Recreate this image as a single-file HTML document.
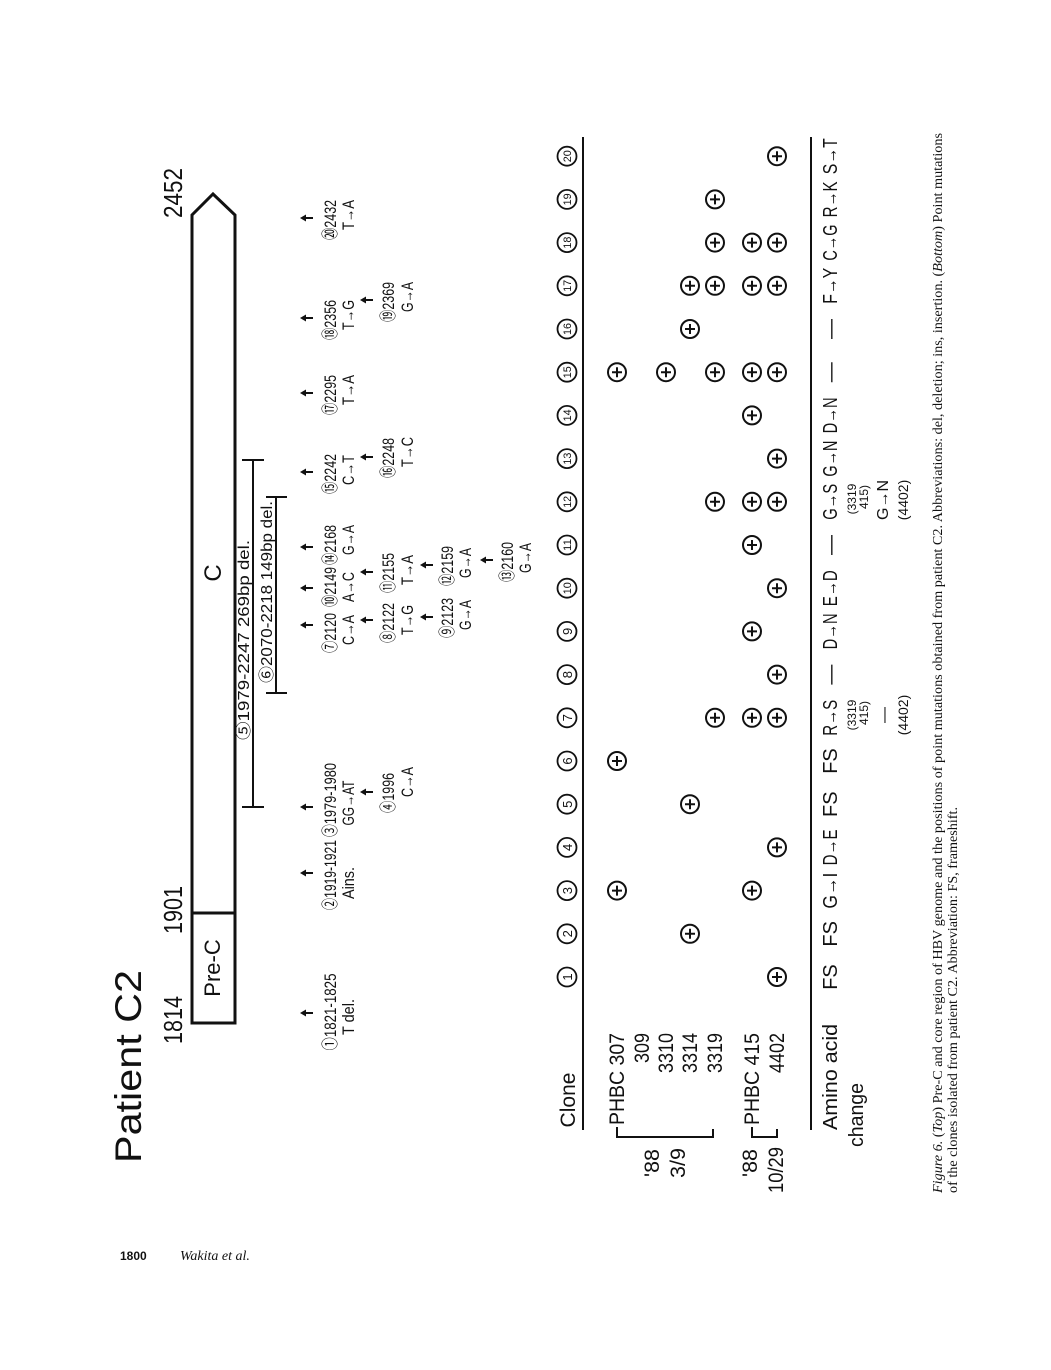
<!DOCTYPE html>
<html><head><meta charset="utf-8"><style>
html,body{margin:0;padding:0;background:#fff;}
svg{display:block;}
text{font-family:"Liberation Sans","Noto Sans CJK JP",sans-serif;fill:#111;}
.s{font-size:17px;}
.a{font-size:20px;}
.sm{font-size:12px;}
.cap{font-family:"Liberation Serif",serif;font-size:14px;}
</style></head><body>
<svg width="1051" height="1370" viewBox="0 0 1051 1370" xmlns="http://www.w3.org/2000/svg">
<defs>
<g id="p"><circle r="9" fill="none" stroke="#111" stroke-width="2"/><path d="M-5 0H5M0 -5V5" stroke="#111" stroke-width="2"/></g>
<g id="ar"><path d="M0 -4V6" stroke="#111" stroke-width="2"/><path d="M-3.5 -1L0 -7L3.5 -1Z" fill="#111"/></g>
</defs>
<g transform="translate(0,1370) rotate(-90)">
<text x="207" y="141" font-size="37" textLength="193" lengthAdjust="spacingAndGlyphs">Patient C2</text>
<text x="350" y="182" font-size="26" text-anchor="middle" textLength="48" lengthAdjust="spacingAndGlyphs">1814</text>
<text x="460" y="182" font-size="26" text-anchor="middle" textLength="48" lengthAdjust="spacingAndGlyphs">1901</text>
<text x="1177" y="182" font-size="26" text-anchor="middle" textLength="50" lengthAdjust="spacingAndGlyphs">2452</text>
<path d="M347 192H1155L1176 213L1155 235H347Z" fill="none" stroke="#111" stroke-width="3"/>
<path d="M457 192V235" stroke="#111" stroke-width="3"/>
<text x="402" y="220" font-size="22" text-anchor="middle">Pre-C</text>
<text x="797" y="221" font-size="24" text-anchor="middle">C</text>
<path d="M563 253H910M563 242V264M910 242V264" stroke="#111" stroke-width="2" fill="none"/>
<text x="630" y="249" font-size="16" textLength="200" lengthAdjust="spacingAndGlyphs">⑤1979-2247  269bp del.</text>
<path d="M677 276H873M677 266V287M873 266V287" stroke="#111" stroke-width="2" fill="none"/>
<text x="687" y="272" font-size="16" textLength="182" lengthAdjust="spacingAndGlyphs">⑥2070-2218  149bp del.</text>
<g class="s" text-anchor="middle">
<use href="#ar" x="357" y="307"/><text x="358" y="336" textLength="77" lengthAdjust="spacingAndGlyphs">①1821-1825</text><text x="353" y="354" textLength="36" lengthAdjust="spacingAndGlyphs">T del.</text>
<use href="#ar" x="497" y="307"/><text x="495" y="336" textLength="70" lengthAdjust="spacingAndGlyphs">②1919-1921</text><text x="487" y="354" textLength="32" lengthAdjust="spacingAndGlyphs">Ains.</text>
<use href="#ar" x="563" y="307"/><text x="570" y="336" textLength="74" lengthAdjust="spacingAndGlyphs">③1979-1980</text><text x="567" y="354" textLength="45" lengthAdjust="spacingAndGlyphs">GG→AT</text>
<use href="#ar" x="578" y="367"/><text x="577" y="394" textLength="40" lengthAdjust="spacingAndGlyphs">④1996</text><text x="588" y="413" textLength="30" lengthAdjust="spacingAndGlyphs">C→A</text>
<use href="#ar" x="745" y="307"/><text x="737" y="336" textLength="40" lengthAdjust="spacingAndGlyphs">⑦2120</text><text x="740" y="354" textLength="30" lengthAdjust="spacingAndGlyphs">C→A</text>
<use href="#ar" x="782" y="307"/><text x="783" y="336" textLength="40" lengthAdjust="spacingAndGlyphs">⑩2149</text><text x="783" y="354" textLength="30" lengthAdjust="spacingAndGlyphs">A→C</text>
<use href="#ar" x="823" y="307"/><text x="825" y="336" textLength="40" lengthAdjust="spacingAndGlyphs">⑭2168</text><text x="830" y="354" textLength="30" lengthAdjust="spacingAndGlyphs">G→A</text>
<use href="#ar" x="750" y="367"/><text x="747" y="394" textLength="40" lengthAdjust="spacingAndGlyphs">⑧2122</text><text x="750" y="413" textLength="30" lengthAdjust="spacingAndGlyphs">T→G</text>
<use href="#ar" x="798" y="367"/><text x="797" y="394" textLength="40" lengthAdjust="spacingAndGlyphs">⑪2155</text><text x="800" y="413" textLength="30" lengthAdjust="spacingAndGlyphs">T→A</text>
<use href="#ar" x="753" y="427"/><text x="752" y="453" textLength="40" lengthAdjust="spacingAndGlyphs">⑨2123</text><text x="755" y="471" textLength="30" lengthAdjust="spacingAndGlyphs">G→A</text>
<use href="#ar" x="805" y="427"/><text x="804" y="453" textLength="40" lengthAdjust="spacingAndGlyphs">⑫2159</text><text x="807" y="471" textLength="30" lengthAdjust="spacingAndGlyphs">G→A</text>
<use href="#ar" x="810" y="487"/><text x="808" y="513" textLength="40" lengthAdjust="spacingAndGlyphs">⑬2160</text><text x="812" y="531" textLength="30" lengthAdjust="spacingAndGlyphs">G→A</text>
<use href="#ar" x="898" y="307"/><text x="896" y="336" textLength="40" lengthAdjust="spacingAndGlyphs">⑮2242</text><text x="900" y="354" textLength="30" lengthAdjust="spacingAndGlyphs">C→T</text>
<use href="#ar" x="913" y="367"/><text x="912" y="394" textLength="40" lengthAdjust="spacingAndGlyphs">⑯2248</text><text x="918" y="413" textLength="30" lengthAdjust="spacingAndGlyphs">T→C</text>
<use href="#ar" x="977" y="307"/><text x="975" y="336" textLength="40" lengthAdjust="spacingAndGlyphs">⑰2295</text><text x="980" y="354" textLength="30" lengthAdjust="spacingAndGlyphs">T→A</text>
<use href="#ar" x="1052" y="307"/><text x="1050" y="336" textLength="40" lengthAdjust="spacingAndGlyphs">⑱2356</text><text x="1055" y="354" textLength="30" lengthAdjust="spacingAndGlyphs">T→G</text>
<use href="#ar" x="1070" y="367"/><text x="1068" y="394" textLength="40" lengthAdjust="spacingAndGlyphs">⑲2369</text><text x="1073" y="413" textLength="30" lengthAdjust="spacingAndGlyphs">G→A</text>
<use href="#ar" x="1152" y="307"/><text x="1150" y="336" textLength="40" lengthAdjust="spacingAndGlyphs">⑳2432</text><text x="1155" y="354" textLength="30" lengthAdjust="spacingAndGlyphs">T→A</text>
</g>
<text x="270" y="575" font-size="21" text-anchor="middle">Clone</text>
<path d="M240 583H1233" stroke="#111" stroke-width="2"/>
<g font-size="13" text-anchor="middle">
<g fill="none" stroke="#111" stroke-width="1.8">
<circle cx="393" cy="567" r="9.5"/><circle cx="436.2" cy="567" r="9.5"/><circle cx="479.4" cy="567" r="9.5"/><circle cx="522.6" cy="567" r="9.5"/><circle cx="565.8" cy="567" r="9.5"/><circle cx="609" cy="567" r="9.5"/><circle cx="652.2" cy="567" r="9.5"/><circle cx="695.4" cy="567" r="9.5"/><circle cx="738.6" cy="567" r="9.5"/><circle cx="781.8" cy="567" r="9.5"/><circle cx="825" cy="567" r="9.5"/><circle cx="868.2" cy="567" r="9.5"/><circle cx="911.4" cy="567" r="9.5"/><circle cx="954.6" cy="567" r="9.5"/><circle cx="997.8" cy="567" r="9.5"/><circle cx="1041" cy="567" r="9.5"/><circle cx="1084.2" cy="567" r="9.5"/><circle cx="1127.4" cy="567" r="9.5"/><circle cx="1170.6" cy="567" r="9.5"/><circle cx="1213.8" cy="567" r="9.5"/>
</g>
<text x="393" y="572">1</text><text x="436.2" y="572">2</text><text x="479.4" y="572">3</text><text x="522.6" y="572">4</text><text x="565.8" y="572">5</text><text x="609" y="572">6</text><text x="652.2" y="572">7</text><text x="695.4" y="572">8</text><text x="738.6" y="572">9</text>
<g font-size="11"><text x="781.8" y="571" textLength="12" lengthAdjust="spacingAndGlyphs">10</text><text x="825" y="571" textLength="12" lengthAdjust="spacingAndGlyphs">11</text><text x="868.2" y="571" textLength="12" lengthAdjust="spacingAndGlyphs">12</text><text x="911.4" y="571" textLength="12" lengthAdjust="spacingAndGlyphs">13</text><text x="954.6" y="571" textLength="12" lengthAdjust="spacingAndGlyphs">14</text><text x="997.8" y="571" textLength="12" lengthAdjust="spacingAndGlyphs">15</text><text x="1041" y="571" textLength="12" lengthAdjust="spacingAndGlyphs">16</text><text x="1084.2" y="571" textLength="12" lengthAdjust="spacingAndGlyphs">17</text><text x="1127.4" y="571" textLength="12" lengthAdjust="spacingAndGlyphs">18</text><text x="1170.6" y="571" textLength="12" lengthAdjust="spacingAndGlyphs">19</text><text x="1213.8" y="571" textLength="12" lengthAdjust="spacingAndGlyphs">20</text></g>
</g>
<g font-size="21" text-anchor="end">
<text x="337" y="624" textLength="92" lengthAdjust="spacingAndGlyphs">PHBC 307</text>
<text x="337" y="649" textLength="30" lengthAdjust="spacingAndGlyphs">309</text>
<text x="337" y="673" textLength="40" lengthAdjust="spacingAndGlyphs">3310</text>
<text x="337" y="697" textLength="40" lengthAdjust="spacingAndGlyphs">3314</text>
<text x="337" y="722" textLength="40" lengthAdjust="spacingAndGlyphs">3319</text>
<text x="337" y="759" textLength="92" lengthAdjust="spacingAndGlyphs">PHBC 415</text>
<text x="337" y="784" textLength="40" lengthAdjust="spacingAndGlyphs">4402</text>
</g>
<g font-size="21" text-anchor="middle">
<text x="207" y="659" textLength="28" lengthAdjust="spacingAndGlyphs">'88</text>
<text x="207" y="685" textLength="30" lengthAdjust="spacingAndGlyphs">3/9</text>
<text x="207" y="757" textLength="28" lengthAdjust="spacingAndGlyphs">'88</text>
<text x="200" y="783" textLength="46" lengthAdjust="spacingAndGlyphs">10/29</text>
</g>
<path d="M243 617H233V713H241M243 752H233V777H241" stroke="#111" stroke-width="2" fill="none"/>
<use href="#p" x="393" y="777"/>
<use href="#p" x="436.2" y="690"/>
<use href="#p" x="479.4" y="617"/><use href="#p" x="479.4" y="752"/>
<use href="#p" x="522.6" y="777"/>
<use href="#p" x="565.8" y="690"/>
<use href="#p" x="609" y="617"/>
<use href="#p" x="652.2" y="715"/><use href="#p" x="652.2" y="752"/><use href="#p" x="652.2" y="777"/>
<use href="#p" x="695.4" y="777"/>
<use href="#p" x="738.6" y="752"/>
<use href="#p" x="781.8" y="777"/>
<use href="#p" x="825" y="752"/>
<use href="#p" x="868.2" y="715"/><use href="#p" x="868.2" y="752"/><use href="#p" x="868.2" y="777"/>
<use href="#p" x="911.4" y="777"/>
<use href="#p" x="954.6" y="752"/>
<use href="#p" x="997.8" y="617"/><use href="#p" x="997.8" y="666"/><use href="#p" x="997.8" y="715"/><use href="#p" x="997.8" y="752"/><use href="#p" x="997.8" y="777"/>
<use href="#p" x="1041" y="690"/>
<use href="#p" x="1084.2" y="690"/><use href="#p" x="1084.2" y="715"/><use href="#p" x="1084.2" y="752"/><use href="#p" x="1084.2" y="777"/>
<use href="#p" x="1127.4" y="715"/><use href="#p" x="1127.4" y="752"/><use href="#p" x="1127.4" y="777"/>
<use href="#p" x="1170.6" y="715"/>
<use href="#p" x="1213.8" y="777"/>
<path d="M240 811H1233" stroke="#111" stroke-width="2"/>
<text x="293" y="837" font-size="20" text-anchor="middle" textLength="106" lengthAdjust="spacingAndGlyphs">Amino acid</text>
<text x="255" y="863" font-size="20" text-anchor="middle" textLength="64" lengthAdjust="spacingAndGlyphs">change</text>
<g class="a" text-anchor="middle">
<text x="393" y="837">FS</text><text x="436.2" y="837">FS</text>
<text x="479.4" y="837" textLength="36" lengthAdjust="spacingAndGlyphs">G→I</text>
<text x="522.6" y="837" textLength="36" lengthAdjust="spacingAndGlyphs">D→E</text>
<text x="565.8" y="837">FS</text><text x="609" y="837">FS</text>
<text x="652.2" y="837" textLength="36" lengthAdjust="spacingAndGlyphs">R→S</text>
<text x="695.4" y="837">—</text>
<text x="738.6" y="837" textLength="36" lengthAdjust="spacingAndGlyphs">D→N</text>
<text x="781.8" y="837" textLength="36" lengthAdjust="spacingAndGlyphs">E→D</text>
<text x="825" y="837">—</text>
<text x="868.2" y="837" textLength="36" lengthAdjust="spacingAndGlyphs">G→S</text>
<text x="911.4" y="837" textLength="36" lengthAdjust="spacingAndGlyphs">G→N</text>
<text x="954.6" y="837" textLength="36" lengthAdjust="spacingAndGlyphs">D→N</text>
<text x="997.8" y="837">—</text>
<text x="1041" y="837">—</text>
<text x="1084.2" y="837" textLength="36" lengthAdjust="spacingAndGlyphs">F→Y</text>
<text x="1127.4" y="837" textLength="36" lengthAdjust="spacingAndGlyphs">C→G</text>
<text x="1170.6" y="837" textLength="36" lengthAdjust="spacingAndGlyphs">R→K</text>
<text x="1213.8" y="837" textLength="36" lengthAdjust="spacingAndGlyphs">S→T</text>
</g>
<g class="sm" text-anchor="middle">
<text x="655" y="856">(3319</text><text x="657" y="868">415)</text>
<text x="655" y="889" font-size="16">—</text>
<text x="655" y="908" font-size="14">(4402)</text>
<text x="871" y="856">(3319</text><text x="873" y="868">415)</text>
<text x="870" y="888" font-size="16">G→N</text>
<text x="870" y="908" font-size="14">(4402)</text>
</g>
<text x="177" y="942" class="cap" textLength="1060" lengthAdjust="spacingAndGlyphs"><tspan font-style="italic">Figure 6.</tspan> (<tspan font-style="italic">Top</tspan>) Pre-C and core region of HBV genome and the positions of point mutations obtained from patient C2. Abbreviations: del, deletion; ins, insertion. (<tspan font-style="italic">Bottom</tspan>) Point mutations</text>
<text x="177" y="957" class="cap" textLength="386" lengthAdjust="spacingAndGlyphs">of the clones isolated from patient C2. Abbreviation: FS, frameshift.</text>
</g>
<text x="120" y="1260" font-size="12" font-weight="bold">1800</text>
<text x="180" y="1260" font-size="14" font-style="italic" style="font-family:'Liberation Serif',serif">Wakita et al.</text>
</svg>
</body></html>
